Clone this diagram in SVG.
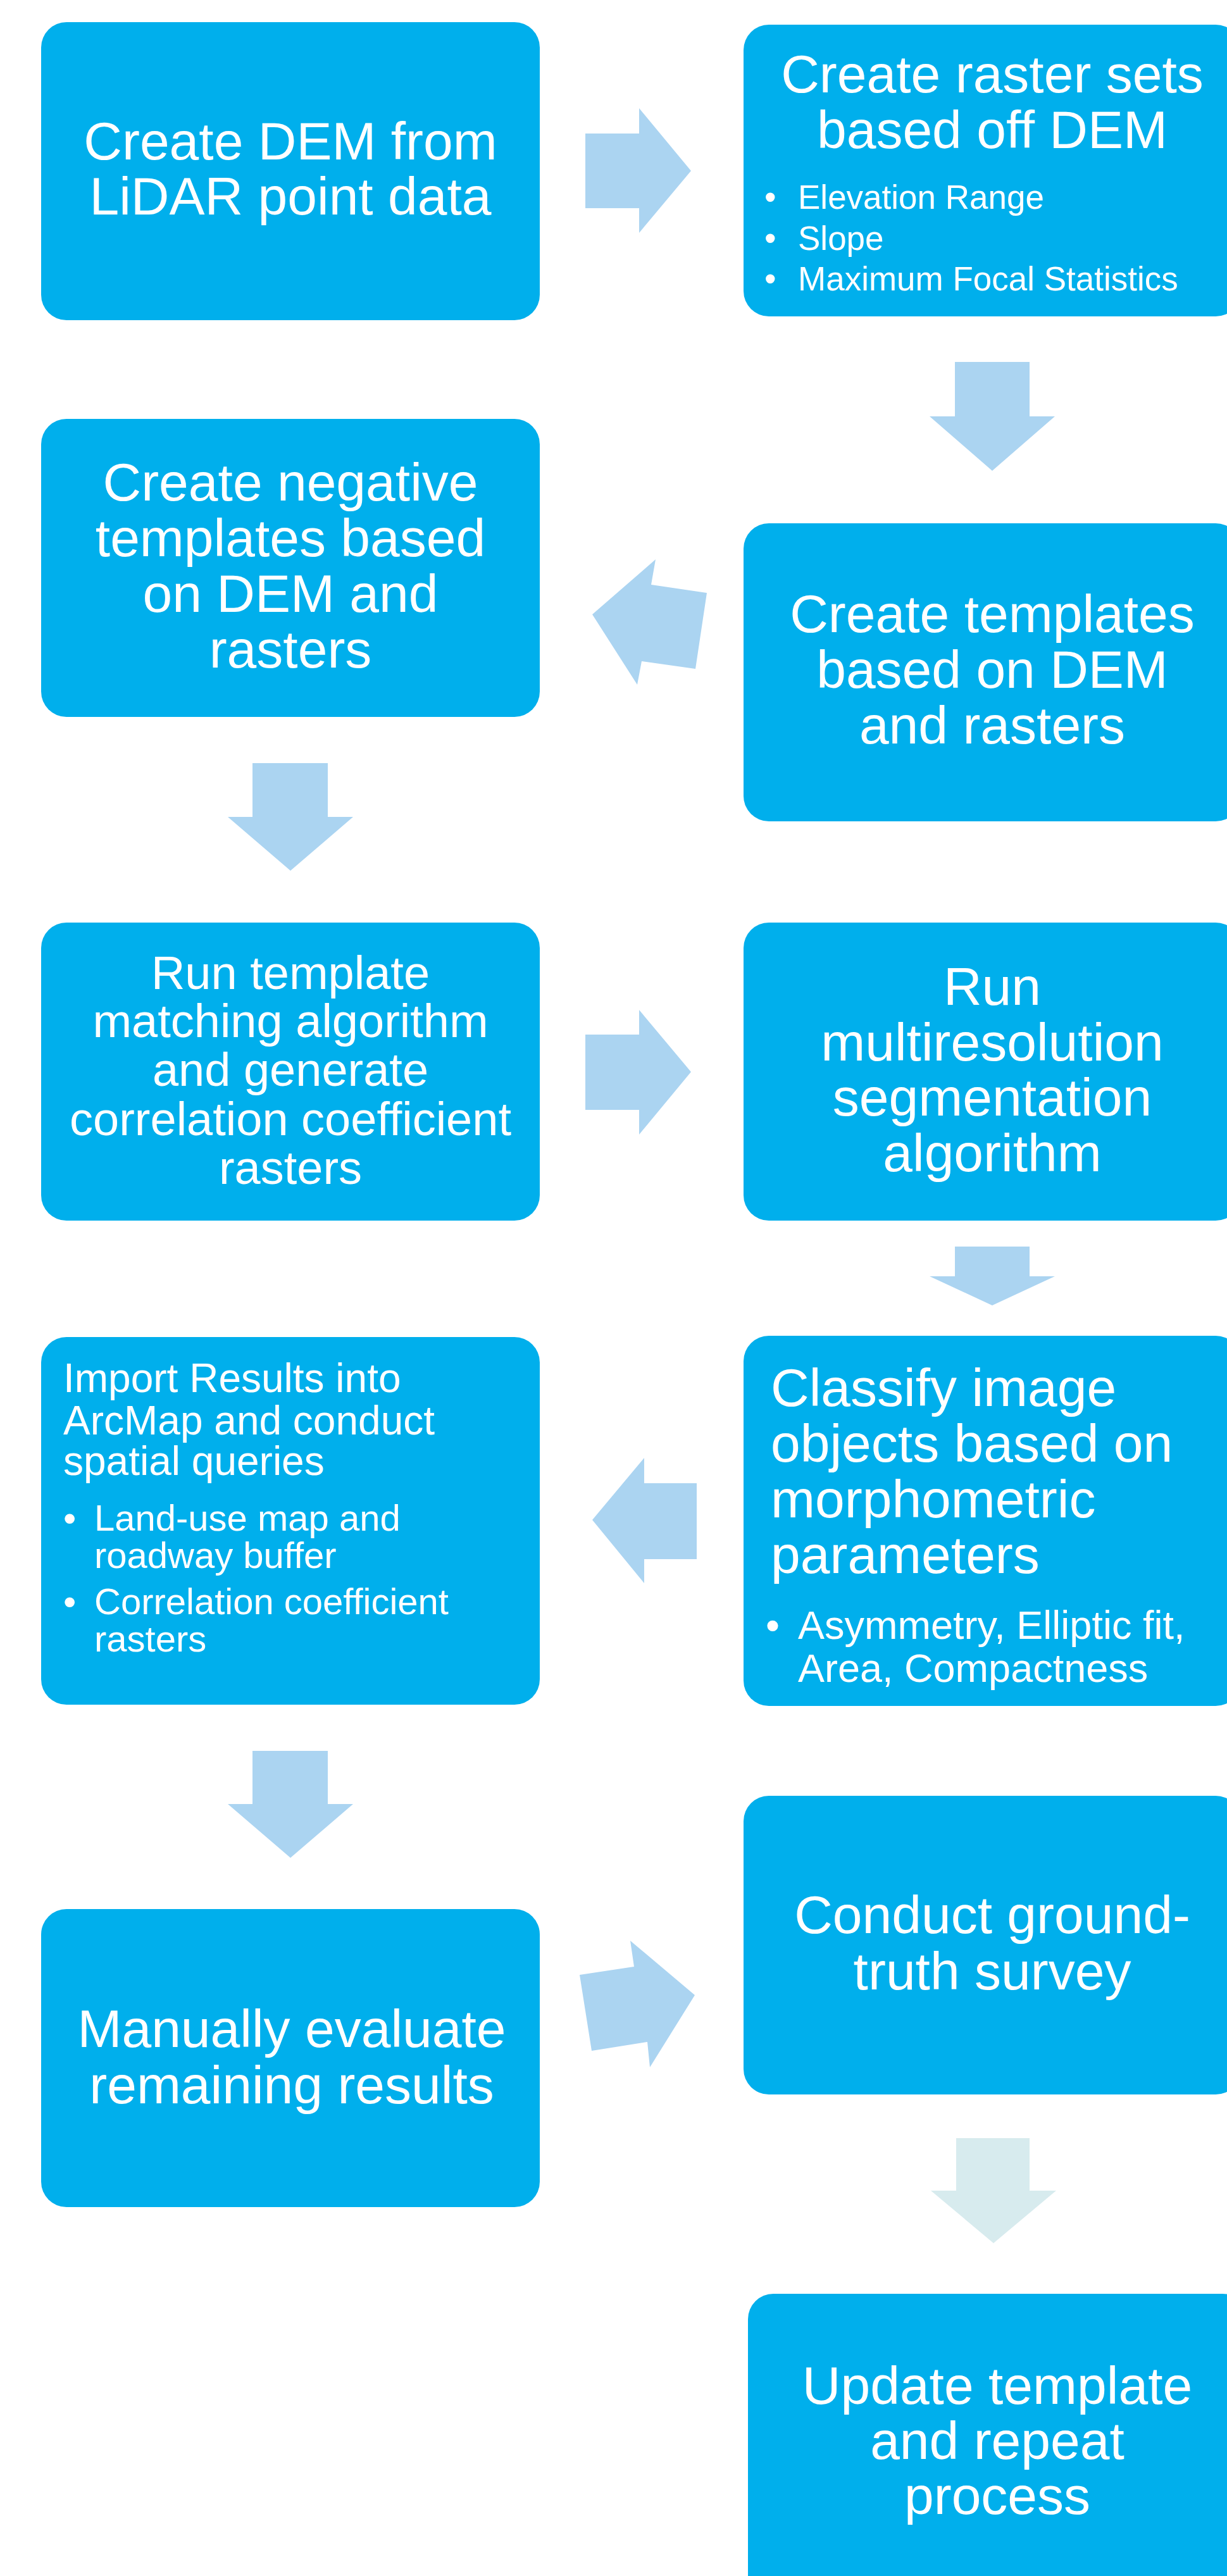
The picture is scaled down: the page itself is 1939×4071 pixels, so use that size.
<svg xmlns="http://www.w3.org/2000/svg" width="1939" height="4071" viewBox="0 0 1939 4071">
<style>
.box{fill:#00AFEC}
.arr{fill:#ABD4F1}
.arr2{fill:#D7EBEE}
text{font-family:"Liberation Sans",Arial,sans-serif;fill:#FFFFFF}
.c84{font-size:84px;text-anchor:middle}
.c74{font-size:74px;text-anchor:middle}
.l84{font-size:84px}
.l64{font-size:64px}
.b58{font-size:58px}
.b53{font-size:53px}
.b63{font-size:63px}
</style>
<rect width="1939" height="4071" fill="#FFFFFF"/>
<g id="connectors">
<polygon class="arr" points="925,211 1010,211 1010,171 1092,270 1010,368 1010,329 925,329"/>
<polygon class="arr" points="1509,572 1627,572 1627,658 1667,658 1568,744 1469,658 1509,658"/>
<polygon class="arr" points="936,971 1036,884 1029,924 1117,937 1099,1057 1014,1045 1007,1082"/>
<polygon class="arr" points="399,1206 518,1206 518,1291 558,1291 459,1376 360,1291 399,1291"/>
<polygon class="arr" points="925,1635 1010,1635 1010,1596 1092,1694 1010,1793 1010,1754 925,1754"/>
<polygon class="arr" points="1509,1970 1627,1970 1627,2017 1667,2017 1568,2063 1469,2017 1509,2017"/>
<polygon class="arr" points="936,2402 1018,2304 1018,2344 1101,2344 1101,2464 1018,2464 1018,2502"/>
<polygon class="arr" points="399,2767 518,2767 518,2851 558,2851 459,2936 360,2851 399,2851"/>
<polygon class="arr" points="996,3067 1098,3153 1027,3267 1023,3227 935,3241 916,3121 1002,3108"/>
<polygon class="arr2" points="1511,3379 1627,3379 1627,3462 1669,3462 1570,3545 1471,3462 1511,3462"/>
</g>
<g id="node1">
<rect class="box" x="65" y="35" width="788" height="471" rx="40"/>
<text class="c84" x="459" y="252">Create DEM from</text>
<text class="c84" x="459" y="339">LiDAR point data</text>
</g>
<g id="node2">
<rect class="box" x="1175" y="39" width="786" height="461" rx="40"/>
<text class="c84" x="1568" y="146">Create raster sets</text>
<text class="c84" x="1568" y="234">based off DEM</text>
<text class="b53" x="1208" y="330">•</text><text class="b53" x="1261" y="330">Elevation Range</text>
<text class="b53" x="1208" y="395">•</text><text class="b53" x="1261" y="395">Slope</text>
<text class="b53" x="1208" y="459">•</text><text class="b53" x="1261" y="459">Maximum Focal Statistics</text>
</g>
<g id="node3">
<rect class="box" x="65" y="662" width="788" height="471" rx="40"/>
<text class="c84" x="459" y="791">Create negative</text>
<text class="c84" x="459" y="879">templates based</text>
<text class="c84" x="459" y="967">on DEM and</text>
<text class="c84" x="459" y="1055">rasters</text>
</g>
<g id="node4">
<rect class="box" x="1175" y="827" width="786" height="471" rx="40"/>
<text class="c84" x="1568" y="999">Create templates</text>
<text class="c84" x="1568" y="1087">based on DEM</text>
<text class="c84" x="1568" y="1175">and rasters</text>
</g>
<g id="node5">
<rect class="box" x="65" y="1458" width="788" height="471" rx="40"/>
<text class="c74" x="459" y="1563">Run template</text>
<text class="c74" x="459" y="1639">matching algorithm</text>
<text class="c74" x="459" y="1716">and generate</text>
<text class="c74" x="459" y="1794">correlation coefficient</text>
<text class="c74" x="459" y="1871">rasters</text>
</g>
<g id="node6">
<rect class="box" x="1175" y="1458" width="786" height="471" rx="40"/>
<text class="c84" x="1568" y="1588">Run</text>
<text class="c84" x="1568" y="1676">multiresolution</text>
<text class="c84" x="1568" y="1763">segmentation</text>
<text class="c84" x="1568" y="1851">algorithm</text>
</g>
<g id="node7">
<rect class="box" x="65" y="2113" width="788" height="581" rx="40"/>
<text class="l64" x="100" y="2200">Import Results into</text>
<text class="l64" x="100" y="2267">ArcMap and conduct</text>
<text class="l64" x="100" y="2331">spatial queries</text>
<text class="b58" x="100" y="2419">•</text><text class="b58" x="149" y="2419">Land-use map and</text>
<text class="b58" x="149" y="2478">roadway buffer</text>
<text class="b58" x="100" y="2551">•</text><text class="b58" x="149" y="2551">Correlation coefficient</text>
<text class="b58" x="149" y="2610">rasters</text>
</g>
<g id="node8">
<rect class="box" x="1175" y="2111" width="786" height="585" rx="40"/>
<text class="l84" x="1218" y="2222">Classify image</text>
<text class="l84" x="1218" y="2310">objects based on</text>
<text class="l84" x="1218" y="2398">morphometric</text>
<text class="l84" x="1218" y="2486">parameters</text>
<text class="b63" x="1210" y="2590">•</text><text class="b63" x="1261" y="2590">Asymmetry, Elliptic fit,</text>
<text class="b63" x="1261" y="2658">Area, Compactness</text>
</g>
<g id="node9">
<rect class="box" x="65" y="3017" width="788" height="471" rx="40"/>
<text class="c84" x="461" y="3235">Manually evaluate</text>
<text class="c84" x="461" y="3324">remaining results</text>
</g>
<g id="node10">
<rect class="box" x="1175" y="2838" width="786" height="472" rx="40"/>
<text class="c84" x="1568" y="3055">Conduct ground-</text>
<text class="c84" x="1568" y="3144">truth survey</text>
</g>
<g id="node11">
<rect class="box" x="1182" y="3625" width="790" height="500" rx="40"/>
<text class="c84" x="1576" y="3799">Update template</text>
<text class="c84" x="1576" y="3886">and repeat</text>
<text class="c84" x="1576" y="3973">process</text>
</g>
</svg>
